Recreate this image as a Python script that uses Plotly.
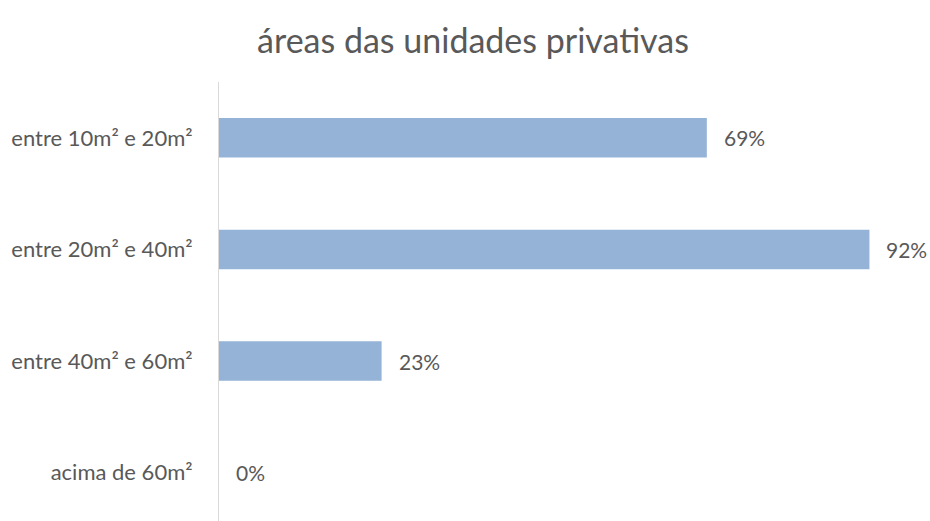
import plotly.graph_objects as go

categories = ["entre 10m² e 20m²", "entre 20m² e 40m²", "entre 40m² e 60m²", "acima de 60m²"]
values = [69, 92, 23, 0]
labels = ["69%", "92%", "23%", "0%"]

FONT = "Lato, Open Sans, sans-serif"
TXT = "#595959"

fig = go.Figure()
fig.add_trace(go.Bar(
    x=values, y=categories, orientation="h",
    marker=dict(color="#95b3d7", line=dict(width=0)),
    width=0.354, hoverinfo="skip",
))
for c, v, t in zip(categories, values, labels):
    fig.add_annotation(x=v, y=c, text=t, showarrow=False, xanchor="left",
                       xshift=15, font=dict(family=FONT, size=21, color=TXT))

fig.update_layout(
    width=930, height=521,
    margin=dict(l=219, r=4, t=82, b=0),
    paper_bgcolor="white", plot_bgcolor="white",
    showlegend=False,
    title=dict(text="áreas das unidades privativas", x=473/930, xref="container",
               xanchor="center", y=1 - 41/521, yanchor="middle",
               font=dict(family=FONT, size=34, color=TXT)),
    xaxis=dict(range=[0, 100], visible=False, fixedrange=True),
    yaxis=dict(type="category", categoryorder="array", categoryarray=categories,
               range=[3.433, -0.5], showgrid=False, zeroline=False,
               showline=True, linecolor="#d9d9d9", linewidth=1,
               ticks="", ticklabelstandoff=21,
               tickfont=dict(family=FONT, size=22, color=TXT)),
)
fig.write_html("out.html")
